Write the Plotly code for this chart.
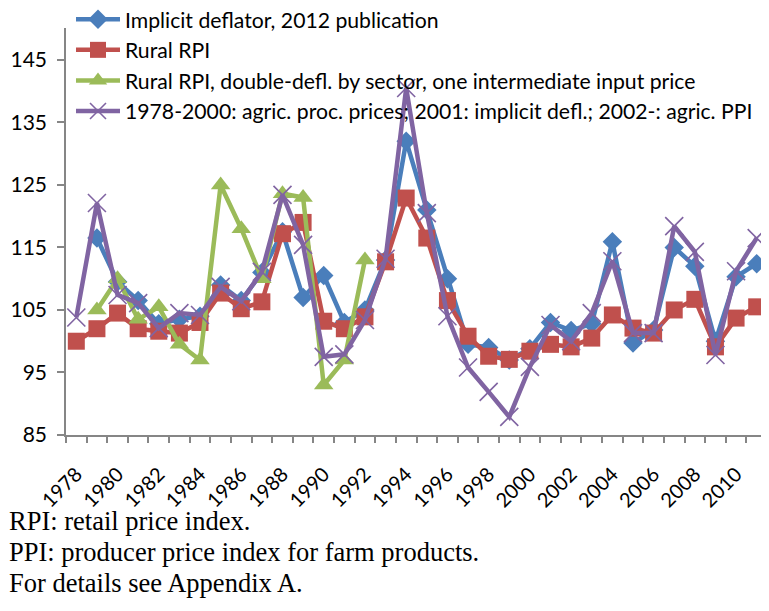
import plotly.graph_objects as go

years = list(range(1978, 2012))

implicit_deflator = [None, 116.5, 109.5, 106.5, 102.8, 103.5, 104.0, 109.0, 106.5, 111.0,
                     117.5, 107.0, 110.5, 103.0, 105.0, 113.0, 132.0, 121.0, 110.0, 99.5,
                     99.0, 97.0, 98.8, 103.0, 101.7, 102.8, 115.9, 99.7, 101.8, 115.0,
                     112.0, 100.0, 110.3, 112.4]

rural_rpi = [100.0, 102.0, 104.5, 102.0, 101.6, 101.3, 103.0, 107.7, 105.2, 106.3,
             117.2, 119.0, 103.2, 102.0, 103.9, 112.7, 122.9, 116.5, 106.5, 100.8,
             97.6, 97.1, 98.4, 99.5, 99.1, 100.5, 104.2, 102.1, 101.3, 105.0,
             106.7, 99.1, 103.7, 105.5]

rural_rpi_dd = [None, 105.0, 110.0, 103.5, 105.5, 99.5, 97.0, 125.0, 118.0, 110.0,
                123.6, 123.0, 93.0, 97.0, 113.0, None, None, None, None, None,
                None, None, None, None, None, None, None, None, None, None,
                None, None, None, None]

agric_ppi = [103.8, 122.1, 107.4, 106.1, 102.1, 104.5, 104.2, 108.7, 106.4, 111.1,
             123.4, 115.4, 97.5, 97.9, 103.4, 113.2, 140.5, 120.5, 104.0, 95.8,
             91.9, 87.9, 95.9, 102.6, 100.0, 104.5, 112.8, 101.3, 101.3, 118.4,
             114.3, 97.8, 111.2, 116.5]

series_names = [
    "Implicit deflator, 2012 publication",
    "Rural RPI",
    "Rural RPI, double-defl. by sector, one intermediate input price",
    "1978-2000: agric. proc. prices; 2001: implicit defl.; 2002-: agric. PPI",
]

y_ticks = [85, 95, 105, 115, 125, 135, 145]
x_tick_labels = [str(y) for y in range(1978, 2011, 2)]

notes = [
    "RPI: retail price index.",
    "PPI: producer price index for farm products.",
    "For details see Appendix A.",
]

# page body adds an 8px offset; figure sized so the screen layout fits 769x611
OFF = 8
SW, SH = 769, 611
W, H = SW - OFF, SH - OFF
# plot area in screen pixels
L, R, T, B = 66, 767, 28, 435
FONT = "Lato"

fig = go.Figure()
styles = [
    (implicit_deflator, "#4A7EBB", "diamond", 15, None),
    (rural_rpi, "#C0504D", "square", 17, None),
    (rural_rpi_dd, "#9BBB59", "triangle-up", 17, None),
    (agric_ppi, "#8064A2", "x-thin", 18, 1.6),
]
for (vals, col, sym, sz, lw), name in zip(styles, series_names):
    marker = dict(symbol=sym, size=sz, color=col)
    if lw:
        marker["line"] = dict(color=col, width=lw)
    fig.add_trace(go.Scatter(
        x=years, y=vals, name=name, mode="lines+markers",
        line=dict(color=col, width=4.5), marker=marker,
        connectgaps=False,
    ))

def px_x(px):
    return (px - L) / (R - L)

def px_y(py):
    return (B - py) / (B - T)

for i, t in enumerate(notes):
    fig.add_annotation(
        text=t, xref="paper", yref="paper", x=px_x(7), y=px_y(521 + 31 * i),
        xanchor="left", yanchor="middle", showarrow=False,
        font=dict(family="Liberation Serif", size=26.5, color="black"),
    )

axis_col = "#868686"
fig.update_layout(
    width=W, height=H,
    margin=dict(l=L - OFF, r=W - (R - OFF), t=T - OFF, b=H - (B - OFF), pad=0,
                autoexpand=False),
    paper_bgcolor="white", plot_bgcolor="white",
    font=dict(family=FONT, size=18, color="black"),
    showlegend=True,
    legend=dict(x=px_x(71), y=px_y(-1),
                xanchor="left", yanchor="top", itemwidth=44,
                bgcolor="rgba(0,0,0,0)",
                font=dict(family=FONT, size=21.2, color="black"),
                tracegroupgap=0),
    xaxis=dict(
        type="linear", range=[1977.5, 2011.5], automargin=False,
        tickmode="array", tickvals=list(range(1978, 2011, 2)), ticktext=x_tick_labels,
        tickangle=-45, ticks="", ticklabelstandoff=18,
        showline=True, linecolor=axis_col, linewidth=1.5,
        showgrid=False, zeroline=False,
        tickfont=dict(family=FONT, size=20, color="black"),
        minor=dict(tickmode="linear", tick0=1977.5, dtick=1, ticks="outside",
                   ticklen=6, tickcolor=axis_col, tickwidth=1.5, showgrid=False),
    ),
    yaxis=dict(
        range=[85, 150.1], tickmode="array", tickvals=y_ticks, automargin=False,
        ticks="outside", ticklen=7, tickcolor=axis_col, tickwidth=1.5,
        ticklabelstandoff=6,
        showline=True, linecolor=axis_col, linewidth=1.5,
        showgrid=False, zeroline=False,
        tickfont=dict(family=FONT, size=21, color="black"),
    ),
)

fig.write_html("out.html")
